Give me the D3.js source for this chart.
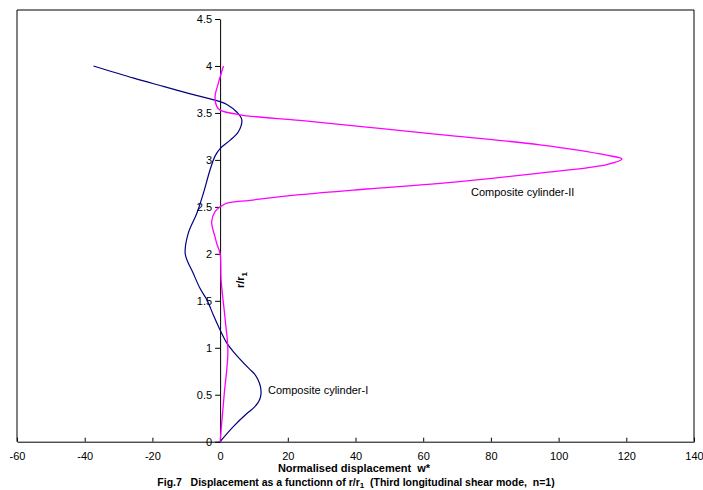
<!DOCTYPE html>
<html><head><meta charset="utf-8">
<script src="https://cdn.jsdelivr.net/npm/d3@7"></script>
<style>body{margin:0;background:#fff}svg{display:block}text{font-family:"Liberation Sans",Arial,sans-serif}</style>
</head><body><svg id="c" width="703" height="490"></svg>
<script>
const xTicks = [-60,-40,-20,0,20,40,60,80,100,120,140];
const xTickLabels = ["-60","-40","-20","0","20","40","60","80","100","120","140"];
const yTicks = [0,0.5,1,1.5,2,2.5,3,3.5,4,4.5];
const yTickLabels = ["0","0.5","1","1.5","2","2.5","3","3.5","4","4.5"];
// Composite cylinder-I : r/r1 and w*
const rI = [0,0.16,0.30,0.36,0.41,0.46,0.52,0.59,0.66,0.72,0.78,0.96,1.05,1.19,1.35,1.51,1.63,1.79,2.0,2.22,2.43,2.65,2.89,3.04,3.12,3.21,3.30,3.43,3.51,3.59,3.62,3.70,3.78,3.87,4.0];
const wI = [0,3.9,7.9,9.9,11.1,11.8,12.1,11.9,11.2,10.2,8.5,3.9,2.0,0,-2.0,-3.9,-5.9,-7.9,-10.3,-9.4,-6.9,-4.9,-3.0,-1.5,0,3.0,5.4,6.4,4.9,2.0,0,-8.5,-16.5,-25.5,-37.4];
// Composite cylinder-II
const rII = [0,0.5,0.96,1.3,1.72,2.0,2.1,2.18,2.34,2.45,2.5,2.54,2.57,2.63,2.69,2.75,2.86,2.95,3.01,3.05,3.16,3.27,3.35,3.42,3.48,3.53,3.57,3.67,3.82,4.0];
const wII = [0,1.2,2.3,1.5,0.3,0,-0.9,-1.5,-2.5,-1.5,0,2.0,8.9,23.6,43.3,65,94.5,114.2,118.7,114.2,94.5,65,43.3,23.6,5.9,0,-1,-1.5,-0.5,1.0];

const svg = d3.select("#c");
const x = d3.scaleLinear().domain([-60,140]).range([17,694]);
const y = d3.scaleLinear().domain([0,4.5]).range([441.7,19]);

// frame
svg.append("line").attr("x1",17).attr("x2",694).attr("y1",10).attr("y2",10).attr("stroke","#808080").attr("stroke-width",2);
svg.append("line").attr("x1",17).attr("x2",17).attr("y1",10).attr("y2",y(0)).attr("stroke","#000");
svg.append("line").attr("x1",694).attr("x2",694).attr("y1",10).attr("y2",y(0)).attr("stroke","#000");

// x axis
const xa = svg.append("g").attr("transform",`translate(0,${y(0)})`)
  .call(d3.axisBottom(x).tickValues(xTicks).tickFormat((d,i)=>xTickLabels[i]).tickSizeInner(-4).tickSizeOuter(0).tickPadding(11));
xa.select(".domain").attr("stroke","#000");
xa.selectAll("text").attr("font-size",11).attr("fill","#000").attr("font-family","Liberation Sans, Arial, sans-serif");
// y axis at x=0
const ya = svg.append("g").attr("transform",`translate(${x(0)},0)`)
  .call(d3.axisLeft(y).tickValues(yTicks).tickFormat((d,i)=>yTickLabels[i]).tickSizeInner(5).tickSizeOuter(0).tickPadding(3));
ya.select(".domain").attr("stroke","#000");
ya.selectAll("text").attr("font-size",11).attr("fill","#000").attr("font-family","Liberation Sans, Arial, sans-serif");

const line = d3.line().curve(d3.curveCatmullRom.alpha(0.5));
svg.append("path").attr("d",line(rI.map((r,i)=>[x(wI[i]),y(r)]))).attr("fill","none").attr("stroke","#000080").attr("stroke-width",1.2);
svg.append("path").attr("d",line(rII.map((r,i)=>[x(wII[i]),y(r)]))).attr("fill","none").attr("stroke","#FF00FF").attr("stroke-width",1.3);

svg.append("text").attr("x",268).attr("y",394).attr("font-size",11).text("Composite cylinder-I");
svg.append("text").attr("x",471).attr("y",195.5).attr("font-size",11).text("Composite cylinder-II");

// axis titles
svg.append("text").attr("x",354).attr("y",472).attr("text-anchor","middle").attr("font-size",11).attr("font-weight","bold").attr("xml:space","preserve").text("Normalised displacement  w*");
const yt = svg.append("text").attr("transform","translate(244,280) rotate(-90)").attr("text-anchor","middle").attr("font-size",11).attr("font-weight","bold");
yt.append("tspan").text("r/r");
yt.append("tspan").attr("font-size",8).attr("dy",3).text("1");
const cap = svg.append("text").attr("x",356).attr("y",486).attr("text-anchor","middle").attr("font-size",10.5).attr("font-weight","bold").attr("xml:space","preserve");
cap.append("tspan").text("Fig.7   Displacement as a functionn of r/r");
cap.append("tspan").attr("font-size",8).attr("dy",2).text("1");
cap.append("tspan").attr("dy",-2).text("  (Third longitudinal shear mode,  n=1)");
</script></body></html>
